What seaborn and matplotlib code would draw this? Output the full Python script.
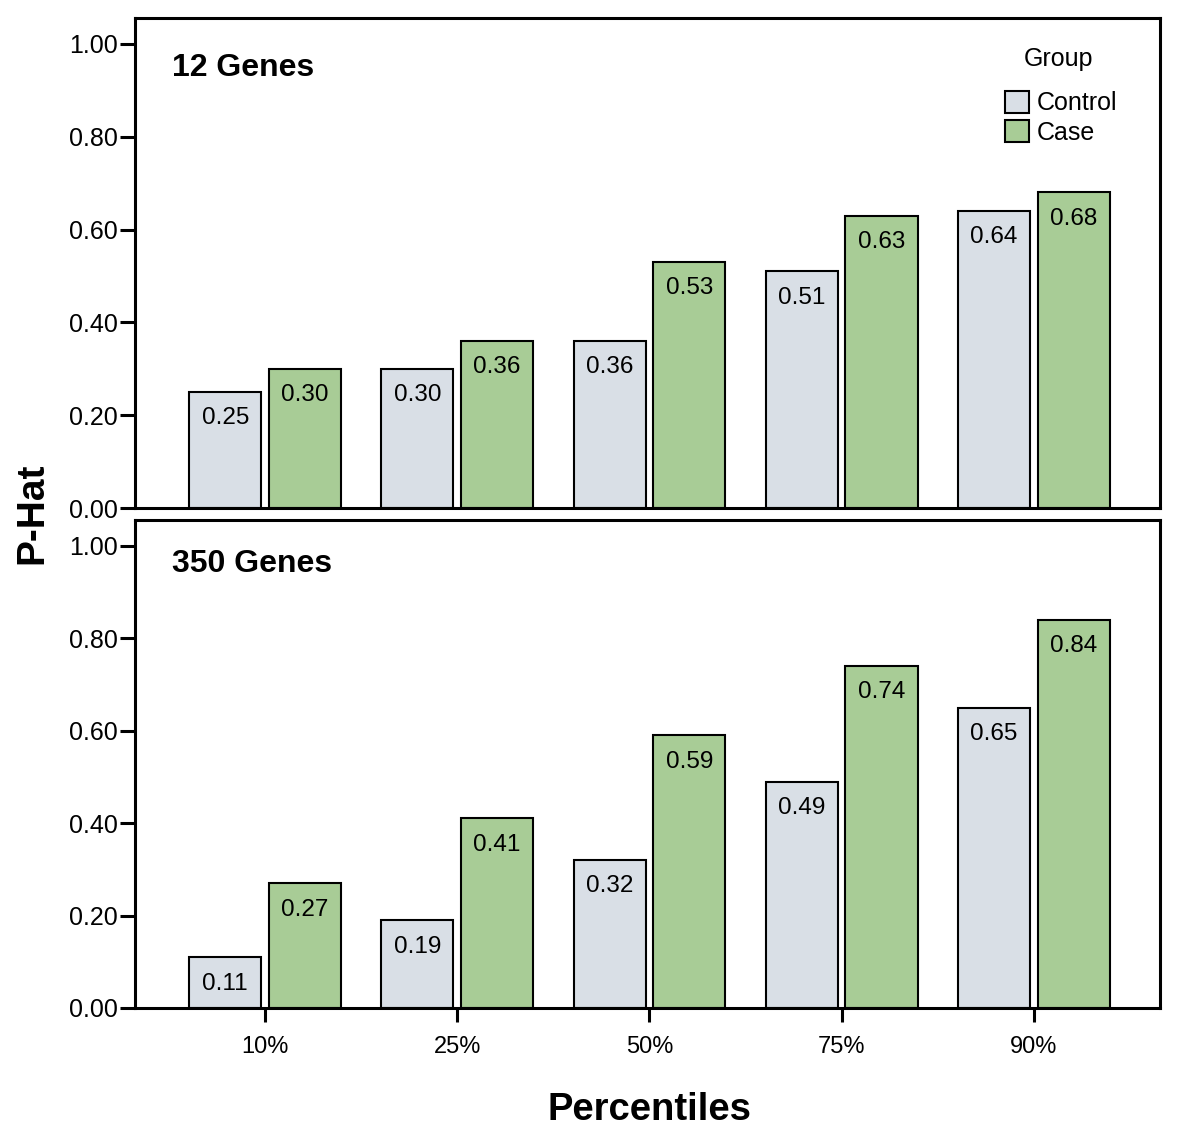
import pandas as pd
import matplotlib
matplotlib.use("Agg")
import matplotlib.pyplot as plt
import seaborn as sns

# data
percentiles = ["10%", "25%", "50%", "75%", "90%"]
groups = ["Control", "Case"]
genes12_control = [0.25, 0.30, 0.36, 0.51, 0.64]
genes12_case = [0.30, 0.36, 0.53, 0.63, 0.68]
genes350_control = [0.11, 0.19, 0.32, 0.49, 0.65]
genes350_case = [0.27, 0.41, 0.59, 0.74, 0.84]
yticks = [0.0, 0.2, 0.4, 0.6, 0.8, 1.0]

sns.set_style("white")
plt.rcParams['font.family'] = ['Liberation Sans', 'DejaVu Sans']
plt.rcParams['text.color'] = 'black'
plt.rcParams['xtick.color'] = 'black'
plt.rcParams['ytick.color'] = 'black'

palette = {"Control": "#d9dfe6", "Case": "#a8cc96"}


def make_df(control, case):
    rows = []
    for p, v in zip(percentiles, control):
        rows.append({"Percentile": p, "Group": "Control", "value": v})
    for p, v in zip(percentiles, case):
        rows.append({"Percentile": p, "Group": "Case", "value": v})
    return pd.DataFrame(rows)


fig = plt.figure(figsize=(12, 11.44), dpi=100)
ax1 = fig.add_axes([0.1125, 0.5559, 0.8542, 0.4284])
ax2 = fig.add_axes([0.1125, 0.1189, 0.8542, 0.4266])

panels = [(ax1, "12 Genes", 0.897, genes12_control, genes12_case),
          (ax2, "350 Genes", 0.91, genes350_control, genes350_case)]

for ax, title, ty, ctrl, case in panels:
    df = make_df(ctrl, case)
    sns.barplot(data=df, x="Percentile", y="value", hue="Group", order=percentiles,
                hue_order=groups, palette=palette, width=0.83, gap=0.096,
                edgecolor="black", linewidth=1.5, saturation=1, ax=ax,
                legend=(ax is ax1))
    for cont in ax.containers:
        for bar in cont:
            h = bar.get_height()
            ax.annotate("%.2f" % h, (bar.get_x() + bar.get_width() / 2, h),
                        xytext=(0, -19), textcoords="offset points",
                        ha="center", va="center", fontsize=17.5)
    ax.set_ylim(0, 1.056)
    ax.set_xlim(-0.677, 4.657)
    ax.set_yticks(yticks)
    ax.set_yticklabels(["%.2f" % t for t in yticks])
    ax.set_xlabel("")
    ax.set_ylabel("")
    for s in ax.spines.values():
        s.set_linewidth(2.2)
        s.set_color("black")
    ax.tick_params(axis="y", left=True, direction="out", length=11, width=2.2,
                   labelsize=18, pad=1.5)
    ax.text(0.036, ty, title, transform=ax.transAxes, fontsize=23,
            fontweight="bold", va="center", ha="left")

ax1.tick_params(axis="x", bottom=False, labelbottom=False)
ax2.tick_params(axis="x", bottom=True, direction="out", length=10, width=2.2,
                labelsize=17, pad=10)

ax1.text(0.9005, 0.916, "Group", transform=ax1.transAxes, fontsize=18,
         ha="center", va="center")
leg = ax1.legend(loc="upper left", bbox_to_anchor=(0.849, 0.851),
                 frameon=False, fontsize=18, borderpad=0, borderaxespad=0,
                 handlelength=0.96, handleheight=0.96, handletextpad=0.3,
                 labelspacing=0.2)
for h in leg.legend_handles:
    h.set_edgecolor("black")
    h.set_linewidth(1.5)

fig.text(0.027, 0.551, "P-Hat", rotation=90, fontsize=28, fontweight="bold",
         ha="center", va="center")
fig.text(0.541, 0.030, "Percentiles", fontsize=27.5, fontweight="bold",
         ha="center", va="center")

fig.savefig("out.png", dpi=100)
